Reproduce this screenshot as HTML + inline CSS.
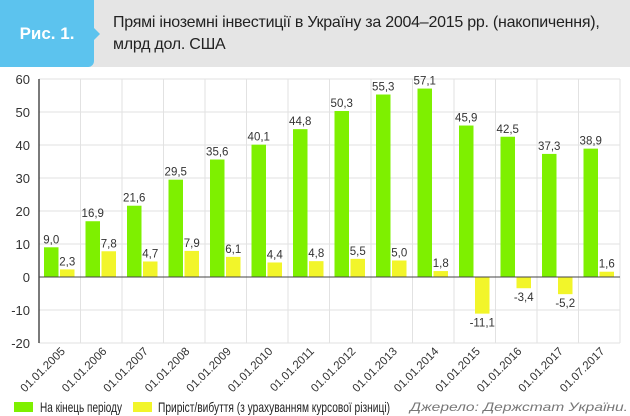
<!DOCTYPE html>
<html><head><meta charset="utf-8"><style>
body{margin:0;width:630px;height:416px;background:#fff;overflow:hidden;font-family:"Liberation Sans",sans-serif;}
#hdr{position:absolute;left:0;top:0;width:630px;height:67px;background:#e5e5e5;}
#tab{position:absolute;left:0;top:0;width:94px;height:67px;background:#5cc3ee;border-radius:0 0 6px 0;color:#fff;font-weight:bold;font-size:17px;line-height:67px;text-align:center;}
#tab:after{content:"";position:absolute;right:-6px;top:28px;border-left:6px solid #5cc3ee;border-top:6px solid transparent;border-bottom:6px solid transparent;}
#title{position:absolute;left:113px;top:12px;font-size:16px;line-height:22px;color:#222;letter-spacing:-0.25px;}
svg{position:absolute;left:0;top:0;}
</style></head><body>
<div id="hdr"></div>
<div id="tab">Рис. 1.</div>
<div id="title">Прямі іноземні інвестиції в Україну за 2004–2015 рр. (накопичення),<br>млрд дол. США</div>
<svg id="chart" width="630" height="416"></svg>
<script>
const categories=["01.01.2005","01.01.2006","01.01.2007","01.01.2008","01.01.2009","01.01.2010","01.01.2011","01.01.2012","01.01.2013","01.01.2014","01.01.2015","01.01.2016","01.01.2017","01.07.2017"];
const totalValues=[9.0,16.9,21.6,29.5,35.6,40.1,44.8,50.3,55.3,57.1,45.9,42.5,37.3,38.9];
const changeValues=[2.3,7.8,4.7,7.9,6.1,4.4,4.8,5.5,5.0,1.8,-11.1,-3.4,-5.2,1.6];
const yTicks=[60,50,40,30,20,10,0,-10,-20];
const NS="http://www.w3.org/2000/svg";
const svg=document.getElementById('chart');
const x0=39,x1=620,cw=(x1-x0)/categories.length;
const y=v=>277-(v*3.3);
const xc=i=>x0+i*cw;
function el(t,a,txt){const e=document.createElementNS(NS,t);for(const k in a)e.setAttribute(k,a[k]);if(txt!==undefined)e.textContent=txt;svg.appendChild(e);return e;}
yTicks.forEach(v=>{
 const g=el('line',{x1:x0,x2:x1,y1:y(v),y2:y(v),stroke:'#e2e2e2','stroke-width':1});
 
 
 const t=el('text',{x:30,y:y(v)+5,'text-anchor':'end','font-size':13,fill:'#333'},String(v));
 
 
});
for(let i=1;i<=categories.length;i++){
 const g=el('line',{x1:xc(i),x2:xc(i),y1:y(60),y2:y(-20),stroke:'#e2e2e2','stroke-width':1});
 
 
}
const fmt=v=>v.toFixed(1).replace('.',',');
categories.forEach((c,i)=>{
 const tv=totalValues[i],cv=changeValues[i];
 const gx=xc(i)+5,yx=xc(i)+21,bw=14.5;
 const b=el('rect',{x:gx,y:Math.min(y(tv),y(0)),width:bw,height:Math.abs(y(tv)-y(0)),fill:'#7ef000'});
 
 
 const b2=el('rect',{x:yx,y:Math.min(y(cv),y(0)),width:bw,height:Math.abs(y(cv)-y(0)),fill:'#f2f52a'});
 
 
 const l1=el('text',{x:gx+bw/2,y:y(tv)-4,'text-anchor':'middle','font-size':11.5,fill:'#333'},fmt(tv));
 
 
 const ly=cv>=0?y(cv)-4:y(cv)+13;
 const l2=el('text',{x:yx+bw/2,y:ly,'text-anchor':'middle','font-size':11.5,fill:'#333'},fmt(cv));
 
 
 const cx=xc(i)+cw/2+6,cy=y(-20)+9;
 const xl=el('text',{x:cx,y:cy,'text-anchor':'end','font-size':11.5,fill:'#333',transform:`rotate(-45 ${cx} ${cy})`},c);
 
 
});
const ax=el('line',{x1:x0,x2:x0,y1:y(60),y2:y(-20),stroke:'#222','stroke-width':1.2});


const zx=el('line',{x1:x0,x2:x1,y1:y(0),y2:y(0),stroke:'#444','stroke-width':1});


const lg1=el('rect',{x:14,y:402,width:19,height:10,fill:'#7ef000'});


const lt1=el('text',{x:40,y:412,'font-size':14,fill:'#222',textLength:82,lengthAdjust:'spacingAndGlyphs'},'На кінець періоду');


const lg2=el('rect',{x:133,y:402,width:19,height:10,fill:'#f2f52a'});


const lt2=el('text',{x:158,y:412,'font-size':14,fill:'#222',textLength:232,lengthAdjust:'spacingAndGlyphs'},'Приріст/вибуття (з урахуванням курсової різниці)');


const src=el('text',{x:410,y:411,'font-size':12,'font-style':'italic',fill:'#777',textLength:218,lengthAdjust:'spacingAndGlyphs'},'Джерело: Держстат України.');


</script>
</body></html>
